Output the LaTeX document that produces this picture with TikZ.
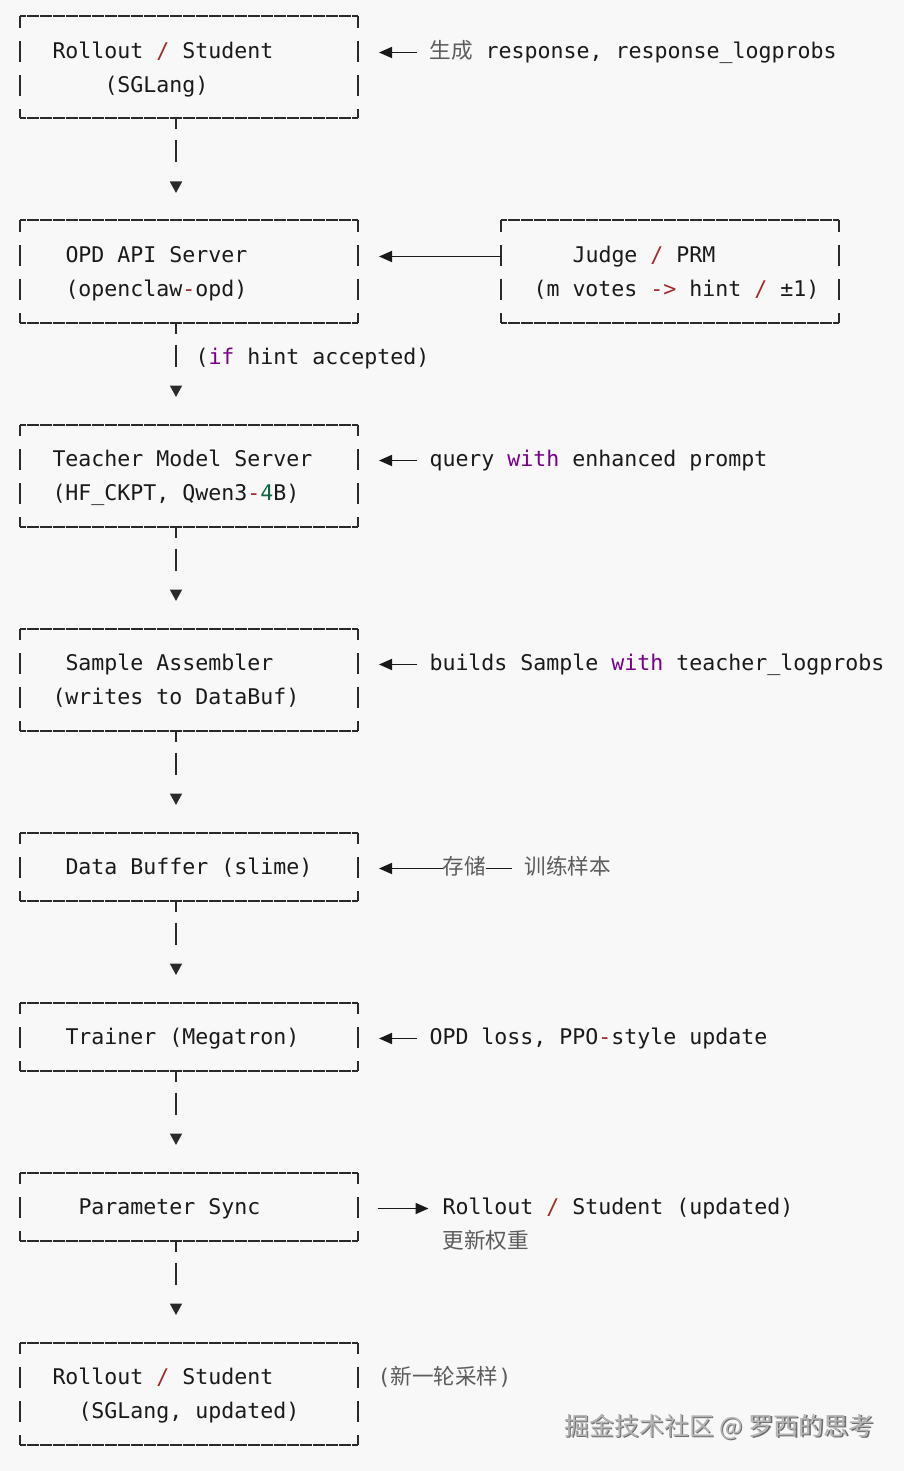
\documentclass[tikz,border=0pt]{standalone}
\usepackage{fontspec}
\usetikzlibrary{arrows.meta}
\newfontfamily\mono{DejaVu Sans Mono}
\newfontfamily\cjk{Noto Sans CJK SC}
\definecolor{bg}{HTML}{F8F8F8}
\definecolor{ink}{HTML}{1A1A1A}
\definecolor{opcol}{HTML}{A22A2A}
\definecolor{kwcol}{HTML}{770088}
\definecolor{numcol}{HTML}{116644}
\definecolor{zhcol}{HTML}{5C5C5C}
\definecolor{frame}{HTML}{2A2A2A}
\definecolor{wmdark}{HTML}{6E6E6E}
\definecolor{wmlight}{HTML}{B4B4B4}
\newcommand\opc[1]{\textcolor{opcol}{#1}}
\newcommand\kwc[1]{\textcolor{kwcol}{#1}}
\newcommand\numc[1]{\textcolor{numcol}{#1}}
\newcommand\zhc[1]{{\cjk\color{zhcol}#1}}
\begin{document}
\begin{tikzpicture}[x=1pt,y=-1pt,
  box/.style={minimum width=338pt, minimum height=102pt, inner sep=0pt, outer sep=0pt, draw=none},
  boxs/.style={box, minimum height=68pt},
  txt/.style={font=\mono\fontsize{21.59pt}{26pt}\selectfont, text=ink, inner sep=0pt, outer sep=0pt, anchor=west, text height=16pt, text depth=4.2pt},
  zhtxt/.style={txt, text=zhcol},
  hb/.style={draw=frame, line width=2pt, dash pattern=on 12.3pt off 0.7pt, dash phase=6.15pt},
  vb/.style={draw=frame, line width=1.7pt, dash pattern=on 21pt off 13pt, dash phase=9.5pt},
  down/.style={draw=frame, line width=1.7pt, dash pattern=on 11pt off 11pt on 22pt off 100pt, -{Triangle[length=11.5pt,width=12pt]}, shorten >=27.5pt},
  larr/.style={draw=ink, line width=1.7pt, -{Triangle[length=13pt,width=11pt]}},
  plainline/.style={draw=ink, line width=1.7pt},
  wmark/.style={font=\cjk\fontsize{25pt}{30pt}\selectfont, inner sep=0pt, outer sep=0pt}
]
\fill[bg] (0,0) rectangle (904,1471);
\useasboundingbox (0,0) rectangle (904,1471);
\newcommand\asciibox[1]{%
  \draw[hb] (#1.north west) -- (#1.north east);
  \draw[hb] (#1.south west) -- (#1.south east);
  \draw[vb] (#1.north west) -- (#1.south west);
  \draw[vb] (#1.north east) -- (#1.south east);}

% boxes
\node[box] (b1) at (189,67.5) {};
\node[box] (b2) at (189,271.5) {};
\node[box] (judge) at (670,271.5) {};
\node[box] (b3) at (189,475.5) {};
\node[box] (b4) at (189,679.5) {};
\node[boxs] (b5) at (189,866.5) {};
\node[boxs] (b6) at (189,1036.5) {};
\node[boxs] (b7) at (189,1206.5) {};
\node[box] (b8) at (189,1393.5) {};
\asciibox{b1}\asciibox{b2}\asciibox{judge}\asciibox{b3}\asciibox{b4}
\asciibox{b5}\asciibox{b6}\asciibox{b7}\asciibox{b8}

% box texts
\node[txt] (t1a) at (52.5,52.5) {Rollout \opc{/} Student};
\node[txt] (t1b) at (104.5,86.5) {(SGLang)};
\node[txt] (t2a) at (65.5,256.5) {OPD API Server};
\node[txt] (t2b) at (65.5,290.5) {(openclaw\opc{-}opd)};
\node[txt] (tja) at (572.5,256.5) {Judge \opc{/} PRM};
\node[txt] (tjb) at (533.5,290.5) {(m votes \opc{->} hint \opc{/} ±1)};
\node[txt] (t3a) at (52.5,460.5) {Teacher Model Server};
\node[txt] (t3b) at (52.5,494.5) {(HF\_CKPT, Qwen3\opc{-}\numc{4}B)};
\node[txt] (t4a) at (65.5,664.5) {Sample Assembler};
\node[txt] (t4b) at (52.5,698.5) {(writes to DataBuf)};
\node[txt] (t5) at (65.5,868.5) {Data Buffer (slime)};
\node[txt] (t6) at (65.5,1038.5) {Trainer (Megatron)};
\node[txt] (t7) at (78.5,1208.5) {Parameter Sync};
\node[txt] (t8a) at (52.5,1378.5) {Rollout \opc{/} Student};
\node[txt] (t8b) at (78.5,1412.5) {(SGLang, updated)};

% side labels
\node[txt] (r1) at (429.5,52.5) {\zhc{生成} response, response\_logprobs};
\node[txt] (t10) at (195.5,358.5) {(\kwc{if} hint accepted)};
\node[txt] (r3) at (429.5,460.5) {query \kwc{with} enhanced prompt};
\node[txt] (r4) at (429.5,664.5) {builds Sample \kwc{with} teacher\_logprobs};
\node[zhtxt] (r5a) at (442.5,868.5) {\zhc{存储}};
\node[zhtxt] (r5b) at (524.7,868.5) {\zhc{训练样本}};
\node[txt] (r6) at (429.5,1038.5) {OPD loss, PPO\opc{-}style update};
\node[txt] (r7a) at (442.5,1208.5) {Rollout \opc{/} Student (updated)};
\node[zhtxt] (r7b) at (442.5,1242.5) {\zhc{更新权重}};
\node[zhtxt] (r8) at (377.5,1378.5) {(\zhc{新一轮采样})};

% vertical flow connectors
\draw[down] ([xshift=-13pt]b1.south) -- ([xshift=-13pt]b2.north);
\draw[down] ([xshift=-13pt]b2.south) -- ([xshift=-13pt]b3.north);
\draw[down] ([xshift=-13pt]b3.south) -- ([xshift=-13pt]b4.north);
\draw[down] ([xshift=-13pt]b4.south) -- ([xshift=-13pt]b5.north);
\draw[down] ([xshift=-13pt]b5.south) -- ([xshift=-13pt]b6.north);
\draw[down] ([xshift=-13pt]b6.south) -- ([xshift=-13pt]b7.north);
\draw[down] ([xshift=-13pt]b7.south) -- ([xshift=-13pt]b8.north);

% side arrows
\draw[larr, shorten <=12.5pt, shorten >=21pt] (r1.west) -- (r1.west -| b1.east);
\draw[larr, shorten >=21pt] (judge.west |- t2a.west) -- (b2.east |- t2a.west);
\draw[larr, shorten <=12.5pt, shorten >=21pt] (r3.west) -- (r3.west -| b3.east);
\draw[larr, shorten <=12.5pt, shorten >=21pt] (r4.west) -- (r4.west -| b4.east);
\draw[larr, shorten >=21pt] (r5a.west) -- (r5a.west -| b5.east);
\draw[plainline, shorten >=13pt] (r5a.east) -- (r5b.west);
\draw[larr, shorten <=12.5pt, shorten >=21pt] (r6.west) -- (r6.west -| b6.east);
\draw[larr, shorten <=19.5pt, shorten >=14pt] (r7a.west -| b7.east) -- (r7a.west);

% watermark
\node[wmark, text=wmdark] (wms) at (720.2,1428.2) {掘金技术社区 @ 罗西的思考};
\node[wmark, text=wmlight] (wm) at (719,1427) {掘金技术社区 @ 罗西的思考};
\end{tikzpicture}
\end{document}
